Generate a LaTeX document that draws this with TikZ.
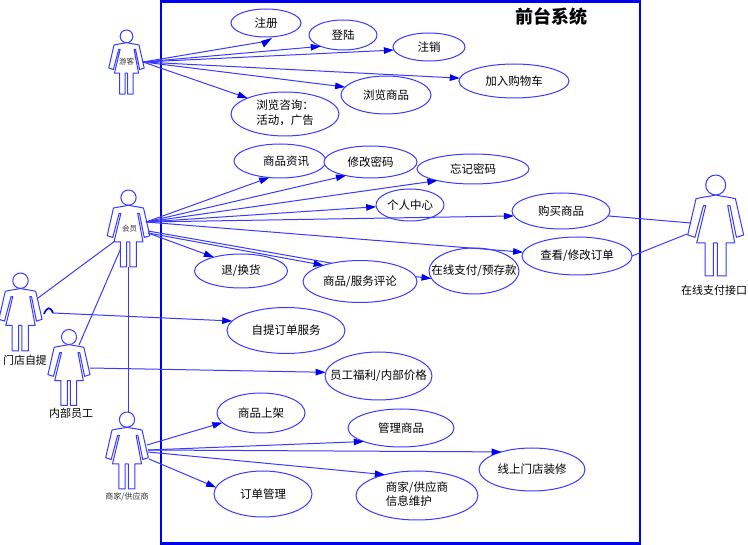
\documentclass[tikz,border=0pt]{standalone}
\usepackage{fontspec}
\setmainfont{Noto Sans CJK SC}
\usetikzlibrary{shapes.geometric,arrows.meta}
\definecolor{ln}{HTML}{3A3AFF}
\definecolor{fr}{HTML}{0000F0}
\newcommand{\ct}[1]{\makebox[0pt]{#1}}
\newcommand{\cttwo}[2]{\makebox[0pt]{\begin{tabular}{@{}l@{}}#1\\#2\end{tabular}}}
\tikzset{
  x=1pt,y=-1pt,
  uc/.style={ellipse,draw=ln,line width=1pt,fill=white,inner sep=0pt,outer sep=0pt,minimum width=2*#1pt,font=\fontsize{11.5}{14.5}\selectfont},
  conn/.style={draw=ln,line width=1pt},
  arr/.style={conn,-{Triangle[length=10pt,width=6.5pt,color=fr,fill=fr]}},
  lbl/.style={font=\fontsize{11}{13}\selectfont,inner sep=0pt},
  tiny/.style={font=\fontsize{7.5}{9}\selectfont,inner sep=0pt,text=black!80},
}
% #1 center x, #2 top y, #3 scale
\newcommand{\actorfig}[3]{%
 \begin{scope}[shift={(#1,#2)},x=#3pt,y=-#3pt,draw=ln,line width=1pt,fill=white,line join=round]
  \draw (0,10) circle[radius=10];
  \draw[fill=white] (0,20) .. controls (-6,21.5) and (-13,22) .. (-19.7,23.7) -- (-28,60) -- (-20.7,62.3) -- (-12.3,30.7) -- (-10,30.7) -- (-19,68) -- (-10.7,68) -- (-10.7,101) -- (-2.3,101) -- (-2.3,68) -- (1.7,68) -- (1.7,101) -- (10.3,101) -- (10.3,68) -- (19,68) -- (12,30.7) -- (14.3,30.7) -- (20.7,62.3) -- (28,60) -- (19.7,23.7) .. controls (13,22) and (6,21.5) .. (0,20);
 \end{scope}}
\begin{document}
\begin{tikzpicture}[x=1pt,y=-1pt]
\useasboundingbox (0,0) rectangle (748,545);
\fill[white] (0,0) rectangle (748,545);
\draw[draw=fr,line width=2.6pt] (161,1.5) rectangle (640,543.5);
\node[font=\fontsize{18}{20}\selectfont\bfseries] (title) at (551,17) {前台系统};

\coordinate (gs) at (143,62);
\coordinate (ms) at (146,222);
\coordinate (ms2) at (148,231);
\coordinate (ms3) at (148,233);
\coordinate (bs) at (148,450);
\coordinate (bs2) at (148,452);
\coordinate (bs3) at (149,459);
\coordinate (bs4) at (147,445);
\coordinate (gsA) at (268,41);
\coordinate (storeR) at (38,298);
\coordinate (memL) at (115,241);
\coordinate (staffT) at (79,345);
\coordinate (memB) at (121,248);
\coordinate (memF) at (128.5,267);
\coordinate (busH) at (128.5,412);
\coordinate (bumpA) at (44,314);
\coordinate (bumpB) at (53,313);
\coordinate (staffR) at (90,368);
\coordinate (payA) at (691,223);
\coordinate (payB) at (687,234);

\actorfig{126.5}{30}{0.634}
\actorfig{128.5}{190}{0.762}
\actorfig{20.5}{273}{0.772}
\actorfig{69}{329.5}{0.752}
\actorfig{127}{412}{0.762}
\actorfig{715.7}{175}{1}

\node[tiny] (tg) at (126.5,62) {游客};
\node[tiny] (tm) at (129.5,229) {会员};
\node[tiny,font=\fontsize{8}{9}\selectfont] (tb) at (127,497) {商家/供应商};
\node[lbl] (ts) at (25,360) {门店自提};
\node[lbl] (tt) at (71,413) {内部员工};
\node[lbl] (to) at (714,290) {在线支付接口};

\node[uc=35,minimum height=28pt] (reg) at (266,23) {\ct{注册}};
\node[uc=34,minimum height=30pt] (login) at (343,35) {\ct{登陆}};
\node[uc=36,minimum height=28pt] (logout) at (429,47) {\ct{注销}};
\node[uc=55,minimum height=34pt] (cart) at (514,81) {\ct{加入购物车}};
\node[uc=45,minimum height=38pt] (browse) at (386,95) {\ct{浏览商品}};
\node[uc=54,minimum height=44pt] (consult) at (285,114) {\cttwo{浏览咨询：}{活动，广告}};
\node[uc=46,minimum height=34pt] (news) at (280,161) {\ct{\hspace{12pt}商品资讯}};
\node[uc=46.5,minimum height=32pt] (pwd) at (370.5,162) {\ct{修改密码}};
\node[uc=56,minimum height=30pt] (forgot) at (473,169) {\ct{忘记密码}};
\node[uc=34,minimum height=32pt] (center) at (410,205) {\ct{个人中心}};
\node[uc=49,minimum height=36pt] (buy) at (561,211) {\ct{购买商品}};
\node[uc=55,minimum height=38pt] (order) at (577,256) {\ct{查看/修改订单}};
\node[uc=46.5,minimum height=34pt] (ret) at (241,271) {\ct{退/换货}};
\node[uc=57,minimum height=42pt] (cmt) at (360,281.5) {\ct{商品/服务评论}};
\node[uc=45,minimum height=46pt] (pay) at (474,271) {\ct{在线支付/预存款}};
\node[uc=59,minimum height=46pt] (pick) at (286,330.5) {\ct{自提订单服务}};
\node[uc=53.5,minimum height=48pt] (wel) at (378.5,376) {\ct{员工福利/内部价格}};
\node[uc=44,minimum height=40pt] (up) at (261,413) {\ct{商品上架}};
\node[uc=53,minimum height=38pt] (mng) at (401,428) {\ct{管理商品}};
\node[uc=53,minimum height=43pt] (deco) at (532,469.5) {\ct{线上门店装修}};
\node[uc=49,minimum height=46pt] (ord2) at (263,494) {\ct{订单管理}};
\node[uc=61,minimum height=49pt] (info) at (417,495.5) {\cttwo{商家/供应商}{信息维护}};

\draw[conn] (gs) -- (gsA);
\fill[fr] (261,41) -- (272,38) -- (264,47.5) -- cycle;
\draw[arr] (gs) -- (login.-153);
\draw[arr] (gs) -- (logout.-175);
\draw[arr] (gs) -- (cart.177);
\draw[arr] (gs) -- (browse.169);
\draw[arr] (gs) -- (consult.157);

\draw[arr] (ms) -- (news.-123);
\draw[arr] (ms) -- (pwd.-151);
\draw[arr] (ms) -- (forgot.-162);
\draw[arr] (ms) -- (center.-177);
\draw[arr] (ms) -- (buy.-174);
\draw[arr] (ms) -- (order.176);
\draw[arr] (ms3) -- (ret.153);
\draw[conn] (ms2) -- (cmt.147);
\draw[arr] (ms3) -- (cmt.156);
\draw[arr] (cmt.5) -- (pay.-170);

\draw[conn] (storeR) -- (memL);
\draw[conn] (staffT) -- (memB);
\draw[conn] (memF) -- (busH);
\draw[arr] (bumpB) -- (pick.170);
\draw[conn,draw=fr,line width=1.6pt] (bumpA) .. controls (47,307) and (50,306) .. (bumpB);
\draw[arr] (staffR) -- (wel.176);
\draw[conn] (buy.-6) -- (payA);
\draw[conn] (order.east) -- (payB);

\draw[arr] (bs4) -- (up.-166);
\draw[arr] (bs) -- (mng.-160);
\draw[arr] (bs) -- (deco.150);
\draw[arr] (bs3) -- (ord2.172);
\draw[arr] (bs2) -- (info.147);
\end{tikzpicture}
\end{document}
